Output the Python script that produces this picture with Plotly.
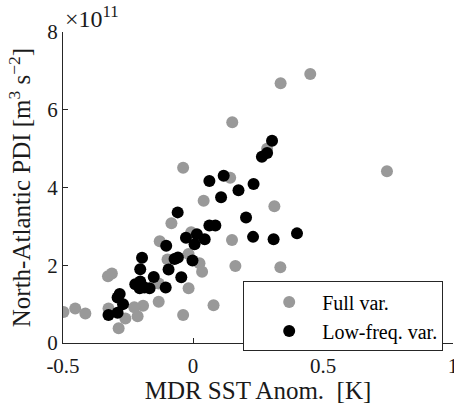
import plotly.graph_objects as go

# Full variability (gray)
full_x = [0.451, 0.337, 0.746, 0.151, -0.038, 0.143, 0.285, 0.041, -0.083, -0.007, -0.128,
          -0.017, -0.098, 0.025, 0.035, 0.150, 0.163, 0.313, 0.336, -0.327, -0.312, -0.132,
          -0.017, -0.132, -0.192, -0.226, -0.325, -0.498, -0.453, -0.414, -0.260, -0.213,
          -0.286, -0.038, 0.079]
full_y = [6.92, 6.68, 4.42, 5.68, 4.51, 4.25, 5.00, 3.66, 3.08, 2.85, 2.62,
          2.29, 2.15, 2.05, 1.83, 2.65, 1.98, 3.52, 1.95, 1.72, 1.79, 1.53,
          1.41, 1.06, 0.96, 0.92, 0.89, 0.80, 0.89, 0.76, 0.63, 0.69,
          0.38, 0.72, 0.97]

# Low-frequency variability (black)
low_x = [0.304, 0.285, 0.265, 0.118, 0.063, 0.175, 0.233, 0.204, 0.231, 0.310, 0.400,
         0.108, -0.059, 0.063, 0.086, -0.027, 0.015, 0.045, 0.006, -0.103, -0.058,
         -0.071, -0.002, -0.196, -0.203, -0.094, -0.151, -0.045, -0.222, -0.203, -0.187,
         -0.167, -0.205, -0.105, -0.282, -0.290, -0.269, -0.290, -0.325]
low_y = [5.20, 4.89, 4.79, 4.30, 4.17, 3.93, 4.09, 3.23, 2.73, 2.67, 2.82,
         3.75, 3.36, 3.02, 3.02, 2.71, 2.80, 2.67, 2.54, 2.50, 2.20,
         2.16, 2.12, 2.19, 1.90, 1.89, 1.70, 1.69, 1.51, 1.58, 1.43,
         1.41, 1.41, 1.43, 1.26, 1.17, 1.00, 0.78, 0.72]

x_ticks = [-0.5, 0, 0.5, 1]
x_tick_labels = ["-0.5", "0", "0.5", "1"]
y_ticks = [0, 2, 4, 6, 8]
y_tick_labels = ["0", "2", "4", "6", "8"]

FONT = "Liberation Serif"

fig = go.Figure()
fig.add_trace(go.Scatter(x=full_x, y=full_y, mode="markers", name="Full var.",
                         marker=dict(color="#999999", size=12, line=dict(width=0))))
fig.add_trace(go.Scatter(x=low_x, y=low_y, mode="markers", name="Low-freq. var.",
                         marker=dict(color="#000000", size=12, line=dict(width=0))))

fig.update_layout(
    width=454, height=404,
    margin=dict(l=63, r=1, t=32, b=61, autoexpand=False),
    plot_bgcolor="white", paper_bgcolor="white",
    font=dict(family=FONT, size=21, color="#1a1a1a"),
    showlegend=True,
    legend=dict(x=0.462, y=0.198, xanchor="left", yanchor="top",
                bordercolor="#262626", borderwidth=1, bgcolor="white",
                font=dict(size=20, family=FONT, color="#000000"),
                itemsizing="constant", itemwidth=56, indentation=12,
                tracegroupgap=0),
    xaxis=dict(range=[-0.5, 1], tickvals=x_ticks, ticktext=x_tick_labels,
               ticks="inside", ticklen=5, tickcolor="#262626",
               ticklabelstandoff=4, ticklabeloverflow="allow",
               showline=True, linecolor="#262626", linewidth=1,
               showgrid=False, zeroline=False,
               title=dict(text="MDR SST Anom.  [K]", font=dict(size=25), standoff=10)),
    yaxis=dict(range=[0, 8], tickvals=y_ticks, ticktext=y_tick_labels,
               ticks="inside", ticklen=5, tickcolor="#262626",
               showline=True, linecolor="#262626", linewidth=1,
               showgrid=False, zeroline=False,
               title=dict(text="North-Atlantic PDI [m<sup>3</sup> s<sup>−2</sup>]",
                          font=dict(size=25), standoff=9)),
)

fig.add_annotation(text="×10<sup>11</sup>", xref="paper", yref="paper",
                   x=0.0, y=1.0, xanchor="left", yanchor="bottom", showarrow=False,
                   font=dict(size=24, family=FONT, color="#1a1a1a"), yshift=-2)

fig.write_html("out.html")
